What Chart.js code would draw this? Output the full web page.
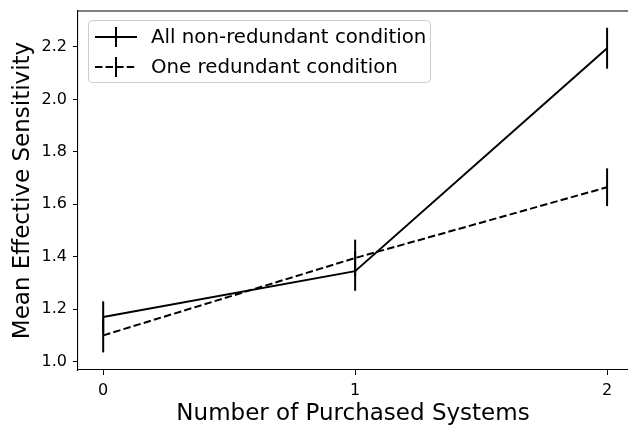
<!DOCTYPE html>
<html>
<head>
<meta charset="utf-8">
<script src="https://cdn.jsdelivr.net/npm/chart.js@4.4.0/dist/chart.umd.min.js"></script>
<style>
html, body { margin: 0; padding: 0; background: #fff; }
</style>
</head>
<body>
<canvas id="lineChart" width="628" height="428"></canvas>
<script>
const CHART = document.getElementById("lineChart");

// values
const purchased = [0, 1, 2];
const nonRedundant = [1.17, 1.345, 2.195];
const nonRedundantErr = [0.06, 0.075, 0.078];
const oneRedundant = [1.10, 1.395, 1.665];
const oneRedundantErr = [0.065, 0.07, 0.072];
const xTicks = [0, 1, 2];
const yTicks = [1.0, 1.2, 1.4, 1.6, 1.8, 2.0, 2.2];

const FONT = "'DejaVu Sans', sans-serif";
const DASH = [7.4, 3.2];

function points(ys) {
    return purchased.map((x, i) => ({x: x, y: ys[i]}));
}

// vertical error bars, no caps
const errorBars = {
    id: 'errorBars',
    afterDatasetsDraw(chart) {
        const ctx = chart.ctx;
        const y = chart.scales.y;
        chart.data.datasets.forEach((ds, i) => {
            const meta = chart.getDatasetMeta(i);
            ctx.save();
            ctx.strokeStyle = '#000';
            ctx.lineWidth = 2;
            meta.data.forEach((pt, j) => {
                const v = ds.data[j].y, e = ds.errors[j];
                ctx.beginPath();
                ctx.moveTo(pt.x, y.getPixelForValue(v + e));
                ctx.lineTo(pt.x, y.getPixelForValue(v - e));
                ctx.stroke();
            });
            ctx.restore();
        });
    }
};

// top spine (the right one falls just outside the picture)
const frame = {
    id: 'frame',
    afterDraw(chart) {
        const a = chart.chartArea, ctx = chart.ctx;
        ctx.save();
        ctx.strokeStyle = '#000';
        ctx.lineWidth = 1.1;
        ctx.beginPath();
        ctx.moveTo(a.left, a.top);
        ctx.lineTo(a.right + 2, a.top);
        ctx.stroke();
        ctx.restore();
    }
};

// matplotlib style legend with errorbar handles
const mplLegend = {
    id: 'mplLegend',
    afterDraw(chart) {
        const ctx = chart.ctx;
        ctx.save();
        ctx.beginPath();
        ctx.roundRect(88.5, 20.5, 342, 62, 4);
        ctx.fillStyle = 'rgba(255,255,255,0.8)';
        ctx.fill();
        ctx.strokeStyle = '#cccccc';
        ctx.lineWidth = 1;
        ctx.stroke();
        chart.data.datasets.forEach((ds, i) => {
            const cy = 37 + i * 30;
            ctx.strokeStyle = '#000';
            ctx.lineWidth = 2;
            ctx.setLineDash(ds.borderDash || []);
            ctx.beginPath();
            ctx.moveTo(95, cy);
            ctx.lineTo(137, cy);
            ctx.stroke();
            ctx.setLineDash([]);
            ctx.beginPath();
            ctx.moveTo(116, cy - 10);
            ctx.lineTo(116, cy + 10);
            ctx.stroke();
            ctx.fillStyle = '#000';
            ctx.font = '19.8px ' + FONT;
            ctx.textBaseline = 'middle';
            ctx.fillText(ds.label, 151, cy + 1);
        });
        ctx.restore();
    }
};

const data = {
    datasets: [
        {label: "All non-redundant condition",
        data: points(nonRedundant),
        errors: nonRedundantErr,
        borderColor: "#000",
        borderWidth: 2,
        pointRadius: 0,
        tension: 0,
        fill: false},
        {label: "One redundant condition",
        data: points(oneRedundant),
        errors: oneRedundantErr,
        borderColor: "#000",
        borderWidth: 2,
        borderDash: DASH,
        pointRadius: 0,
        tension: 0,
        fill: false}
    ]
};

function noOverflow(s) {
    s.paddingTop = 0; s.paddingBottom = 0; s.paddingLeft = 0; s.paddingRight = 0;
}

let lineChart = new Chart(CHART, {
    type: 'line',
    data,
    plugins: [errorBars, frame, mplLegend],
    options: {
        responsive: false,
        animation: false,
        layout: {padding: {top: 11, right: 0, left: 0, bottom: 0}},
        plugins: {legend: {display: false}, tooltip: {enabled: false}},
        scales: {
            x: {
                type: 'linear',
                min: -0.1,
                max: 2.083,
                afterBuildTicks: s => { s.ticks = xTicks.map(v => ({value: v})); },
                afterFit: s => { s.height = 58; noOverflow(s); },
                ticks: {color: '#000', font: {family: FONT, size: 16}, padding: 6,
                        callback: v => String(v)},
                grid: {drawOnChartArea: false, drawTicks: true, tickLength: 5, color: '#000'},
                border: {display: true, color: '#000', width: 1.1},
                title: {display: true, text: 'Number of Purchased Systems', color: '#000',
                        font: {family: FONT, size: 23}, padding: {top: 0, bottom: 0}}
            },
            y: {
                min: 0.968,
                max: 2.337,
                afterBuildTicks: s => { s.ticks = yTicks.map(v => ({value: v})); },
                afterFit: s => { s.width = 78; noOverflow(s); },
                ticks: {color: '#000', font: {family: FONT, size: 16}, padding: 6,
                        callback: v => v.toFixed(1)},
                grid: {drawOnChartArea: false, drawTicks: true, tickLength: 5, color: '#000'},
                border: {display: true, color: '#000', width: 1.1},
                title: {display: true, text: 'Mean Effective Sensitivity', color: '#000',
                        font: {family: FONT, size: 23}, padding: {top: 9, bottom: 0}}
            }
        }
    }
});
</script>
</body>
</html>
